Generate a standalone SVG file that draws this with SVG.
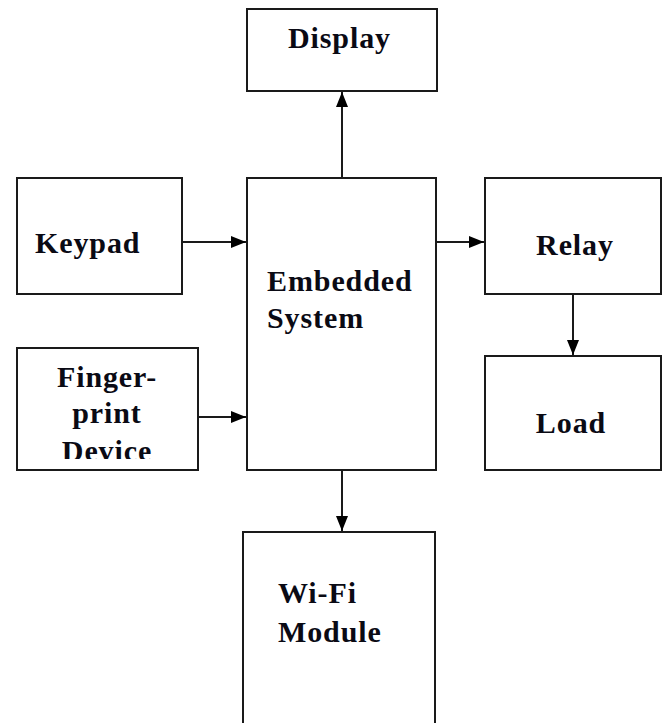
<svg xmlns="http://www.w3.org/2000/svg" width="662" height="723" viewBox="0 0 662 723">
<style>
.box{fill:#fff;stroke:#1a1a1a;stroke-width:2}
.lbl{font-family:"Liberation Serif","Times New Roman",serif;font-weight:bold;font-size:30px;letter-spacing:0.9px;fill:#0a0a14}
.edge{stroke:#1a1a1a;stroke-width:2;fill:none}
</style>
<defs>
<marker id="arr" markerUnits="userSpaceOnUse" markerWidth="16" markerHeight="12" refX="15" refY="6" orient="auto">
<path d="M0,0 L15,6 L0,12 z" fill="#000"/>
</marker>
<clipPath id="fpclip"><rect x="17" y="348" width="181" height="111"/></clipPath>
</defs>
<rect width="662" height="723" fill="#fff"/>
<g id="display">
<rect class="box" x="247" y="9" width="190" height="82"/>
<text class="lbl" x="288" y="48">Display</text>
</g>
<g id="keypad">
<rect class="box" x="17" y="178" width="165" height="116"/>
<text class="lbl" x="35" y="253">Keypad</text>
</g>
<g id="fingerprint">
<rect class="box" x="17" y="348" width="181" height="122"/>
<g clip-path="url(#fpclip)">
<text class="lbl" x="107" y="387" text-anchor="middle">Finger-</text>
<text class="lbl" x="107" y="423" text-anchor="middle">print</text>
<text class="lbl" x="107" y="461" text-anchor="middle">Device</text>
</g>
</g>
<g id="embedded">
<rect class="box" x="247" y="178" width="189" height="292"/>
<text class="lbl" x="267" y="291">Embedded</text>
<text class="lbl" x="267" y="328">System</text>
</g>
<g id="relay">
<rect class="box" x="485" y="178" width="176" height="116"/>
<text class="lbl" x="575" y="255" text-anchor="middle">Relay</text>
</g>
<g id="load">
<rect class="box" x="485" y="356" width="176" height="114"/>
<text class="lbl" x="571" y="433" text-anchor="middle">Load</text>
</g>
<g id="wifi">
<path class="edge" d="M243,726 V532 H435 V726"/>
<text class="lbl" x="278" y="603">Wi-Fi</text>
<text class="lbl" x="278" y="642">Module</text>
</g>
<g id="connectors">
<line class="edge" x1="342" y1="178" x2="342" y2="92" marker-end="url(#arr)"/>
<line class="edge" x1="182" y1="242" x2="246" y2="242" marker-end="url(#arr)"/>
<line class="edge" x1="198" y1="417" x2="246" y2="417" marker-end="url(#arr)"/>
<line class="edge" x1="436" y1="242" x2="484" y2="242" marker-end="url(#arr)"/>
<line class="edge" x1="573" y1="294" x2="573" y2="355" marker-end="url(#arr)"/>
<line class="edge" x1="342" y1="470" x2="342" y2="531" marker-end="url(#arr)"/>
</g>
</svg>
